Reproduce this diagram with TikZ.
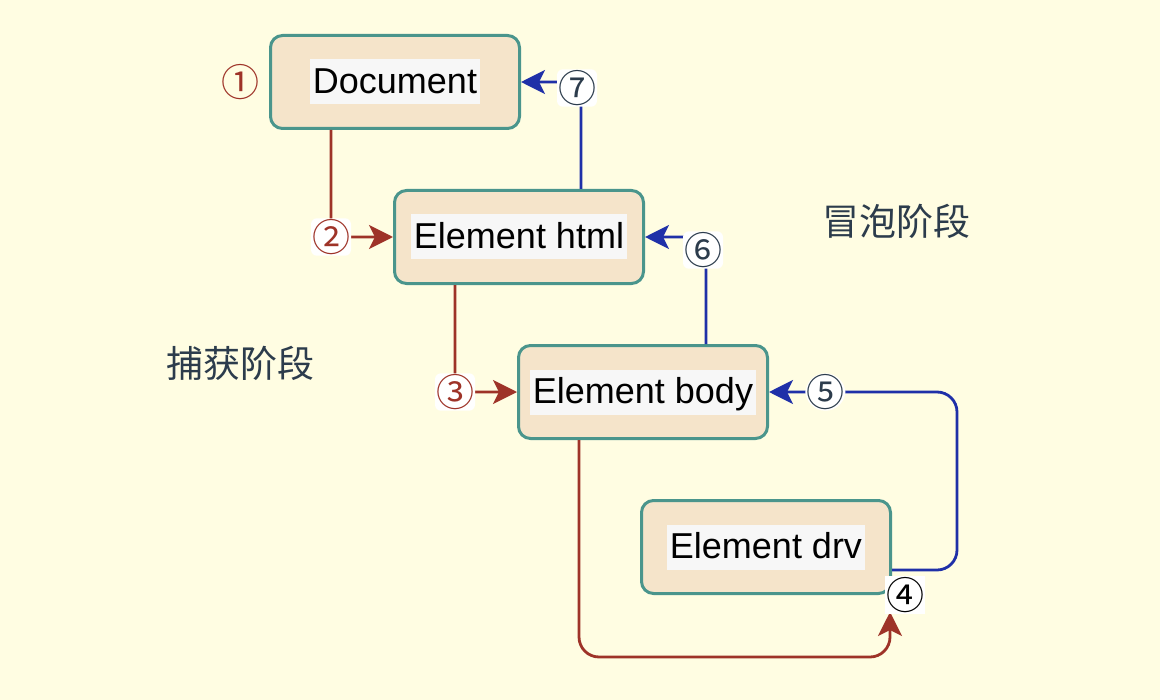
\documentclass[tikz,border=0pt]{standalone}
\usepackage{fontspec}
\setmainfont{Liberation Sans}
\newfontfamily\cjk{Noto Sans CJK SC}
\usepackage{tikz}
\usetikzlibrary{arrows.meta,positioning}
\usepackage{xcolor}
\definecolor{paper}{RGB}{255,253,226}
\definecolor{wheat}{RGB}{245,228,202}
\definecolor{teal}{RGB}{74,149,140}
\definecolor{labelbg}{RGB}{247,247,247}
\definecolor{rust}{RGB}{158,51,40}
\definecolor{ink}{RGB}{31,48,168}
\definecolor{slate}{RGB}{44,60,76}

\begin{document}
\begin{tikzpicture}[x=0.5pt,y=-0.5pt,
	element/.style={draw=teal,line width=1.5pt,fill=wheat,rounded corners=6pt,
		minimum width=124.5pt,minimum height=46.5pt,inner sep=0pt},
	capture/.style={draw=rust,line width=1.4pt,-{Stealth[length=12pt,width=12pt,inset=3pt]}},
	bubble/.style={draw=ink,line width=1.4pt,-{Stealth[length=12pt,width=12pt,inset=3pt]}},
	step label/.style={font=\cjk\fontsize{19}{19}\selectfont,fill=white,inner sep=0.5pt},
	phase/.style={text=slate,font=\cjk\fontsize{18.5}{18.5}\selectfont}]
	% Background and fixed size of the page.
	\fill [paper] (0,0) rectangle (1160,700);
	\useasboundingbox (0,0) rectangle (1160,700);

	% The four elements.
	\newcommand{\elemtext}[1]{\setlength{\fboxsep}{1.5pt}\colorbox{labelbg}{\fontsize{18}{20}\selectfont\rule[-4pt]{0pt}{19.5pt}#1}}
	\node (doc) at (395,82) [element] {\elemtext{Document}};
	\node (html) at (519,237) [element] {\elemtext{Element html}};
	\node (body) at (643,392) [element] {\elemtext{Element body}};
	\node (drv) at (766,547) [element] {\elemtext{Element drv}};

	% Phase names.
	\node (bubblephase) at (896,221) [phase] {冒泡阶段};
	\node (capturephase) at (240,363) [phase] {捕获阶段};

	% Capture phase, going down.
	\node (s1) at (240,82) [step label,fill=none,text=rust] {①};
	\draw [capture,rounded corners=3pt] ([xshift=31pt]doc.south west) |-
		node [step label,text=rust] {②} (html.west);
	\draw [capture,rounded corners=3pt] ([xshift=31pt]html.south west) |-
		node [step label,text=rust] {③} (body.west);
	\coordinate (drvin) at (890,612);
	\draw [capture,rounded corners=10pt] ([xshift=31pt]body.south west) -- ++(0,217) -| (drvin);
	\node (s4) at (905,595) [step label,text=black] {④};

	% Bubble phase, going back up.
	\draw [bubble,rounded corners=10pt] ([yshift=-11.5pt]drv.east) -- ++(65,0) |-
		node [pos=0.85,step label,text=slate] {⑤} (body.east);
	\draw [bubble,rounded corners=3pt] ([xshift=31.5pt]body.north) |-
		node [step label,text=slate,xshift=-1.5pt,yshift=-6.5pt] {⑥} (html.east);
	\draw [bubble,rounded corners=3pt] ([xshift=31pt]html.north) |-
		node [step label,text=slate,xshift=-2pt,yshift=-3pt] {⑦} (doc.east);
\end{tikzpicture}
\end{document}
